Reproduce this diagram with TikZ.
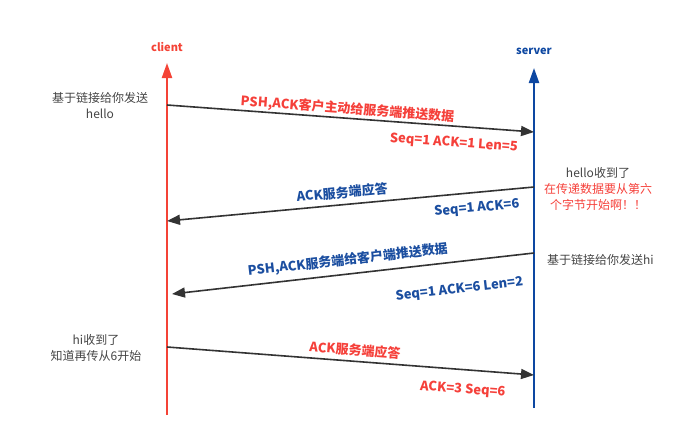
\documentclass[tikz,border=0pt]{standalone}
\usepackage{fontspec}
\setmainfont{Noto Sans CJK SC}
\usepackage{tikz}
\usetikzlibrary{arrows.meta,positioning}
\definecolor{cred}{HTML}{F44336}
\definecolor{sblue}{HTML}{0D47A1}
\definecolor{lred}{HTML}{F5403A}
\definecolor{lblue}{HTML}{1B4EA0}
\definecolor{msg}{HTML}{333333}
\definecolor{note}{HTML}{444444}
\tikzset{
  life/.style={line width=2.2pt,-{Triangle[length=15pt,width=10pt]}},
  msgarrow/.style={msg,line width=1.6pt,-{Triangle[length=13pt,width=10pt]}},
  lbl/.style={font=\fontsize{13}{14}\selectfont\bfseries,inner sep=1pt,sloped},
  notetext/.style={font=\fontsize{12}{16}\selectfont,align=center,text=note,inner sep=0pt}
}
\begin{document}
\begin{tikzpicture}[x=1pt,y=-1pt]
  \useasboundingbox (0,0) rectangle (699,439);
  % lifelines
  \coordinate (cbot) at (167,415); \coordinate (ctop) at (167,63);
  \coordinate (sbot) at (534,408); \coordinate (stop) at (534,68);
  \draw[life,cred] (cbot)--(ctop); \draw[life,sblue] (sbot)--(stop);
  \node[font=\fontsize{11}{12}\selectfont\bfseries,text=cred] (client) at (167,47) {client};
  \node[font=\fontsize{11}{12}\selectfont\bfseries,text=sblue] (server) at (534,51) {server};
  % messages
  \coordinate (c1) at (167,105); \coordinate (s1) at (534,132);
  \coordinate (s2) at (534,187); \coordinate (c2) at (167,221);
  \coordinate (s3) at (534,253); \coordinate (c3) at (172,294);
  \coordinate (c4) at (167,347); \coordinate (s4) at (534,375);
  \draw[msgarrow] (c1)--(s1)
    node[lbl,pos=0.49,above=0pt,text=lred] (m1) {PSH,ACK客户主动给服务端推送数据}
    node[lbl,pos=0.785,below=9pt,text=lred] (q1) {Seq=1 ACK=1 Len=5};
  \draw[msgarrow] (s2)--(c2)
    node[lbl,pos=0.52,above=4pt,text=lblue] (m2) {ACK服务端应答}
    node[lbl,pos=0.16,below=8pt,text=lblue] (q2) {Seq=1 ACK=6};
  \draw[msgarrow] (s3)--(c3)
    node[lbl,pos=0.51,above=5pt,text=lblue] (m3) {PSH,ACK服务端给客户端推送数据}
    node[lbl,pos=0.215,below=20pt,text=lblue] (q3) {Seq=1 ACK=6 Len=2};
  \draw[msgarrow] (c4)--(s4)
    node[lbl,pos=0.51,above=3pt,text=lred] (m4) {ACK服务端应答}
    node[lbl,pos=0.81,below=12pt,text=lred] (q4) {ACK=3 Seq=6};
  % notes
  \node[notetext] (n1) at (100,106) {基于链接给你发送\\hello};
  \node[notetext] (n2) at (598,189) {hello收到了\\\textcolor{lred}{在传递数据要从第六}\\\textcolor{lred}{个字节开始啊！！}};
  \node[notetext,anchor=west] (n3) at (547,260) {基于链接给你发送hi};
  \node[notetext] (n4) at (96,348) {hi收到了\\知道再传从6开始};
\end{tikzpicture}
\end{document}
